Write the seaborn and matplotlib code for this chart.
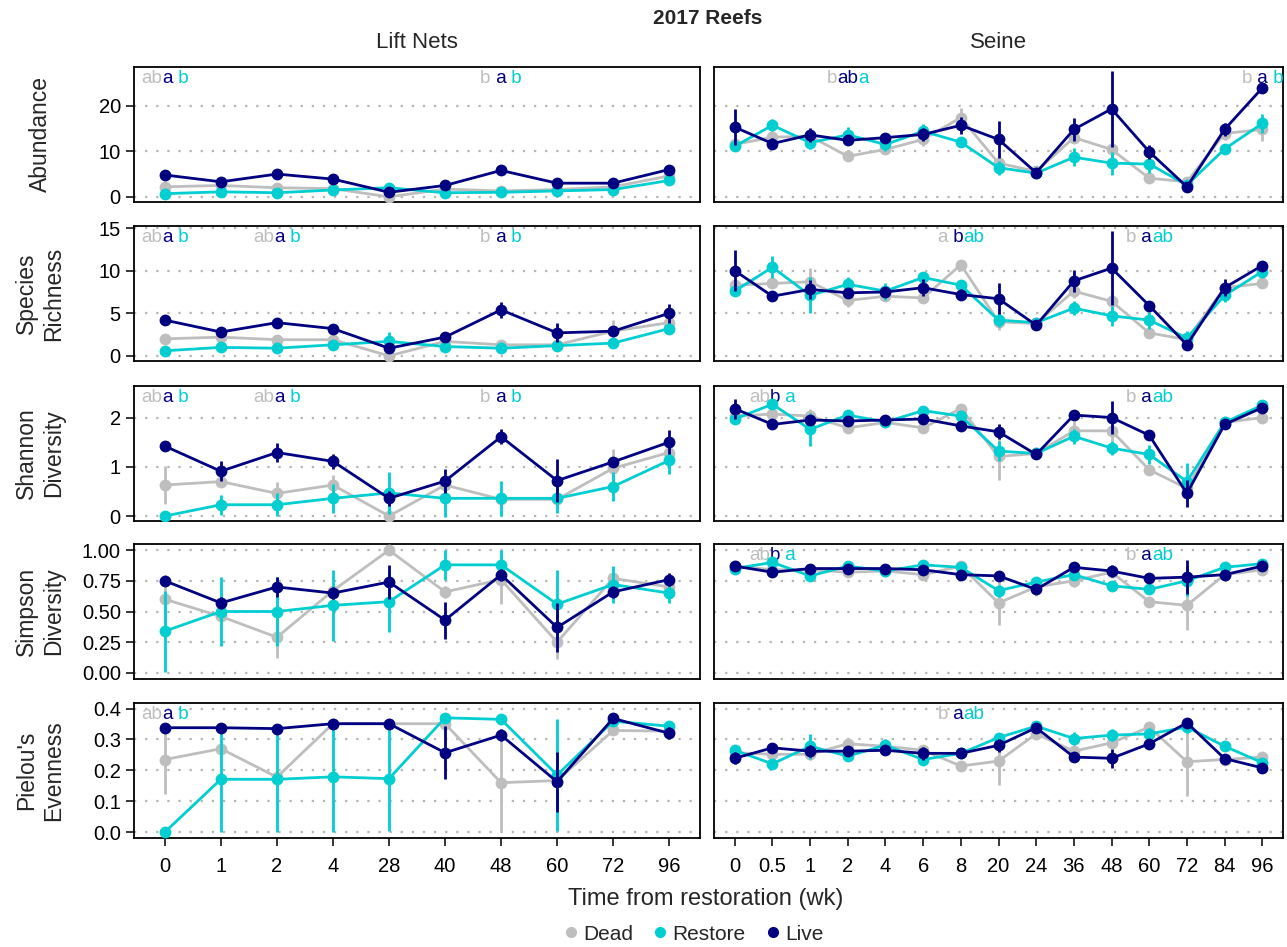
import numpy as np
import pandas as pd
import seaborn as sns
import matplotlib.pyplot as plt
from matplotlib.lines import Line2D
from matplotlib.offsetbox import TextArea, HPacker, AnnotationBbox

sns.set_style("white")
plt.rcParams["font.family"] = ["Liberation Sans", "DejaVu Sans"]

# categories
TREATMENTS = ["Dead", "Restore", "Live"]
PALETTE = {"Dead": "#BEBEBE", "Restore": "#00CED1", "Live": "#000080"}
LIFT_TIMES = ["0", "1", "2", "4", "28", "40", "48", "60", "72", "96"]
SEINE_TIMES = ["0", "0.5", "1", "2", "4", "6", "8", "20", "24", "36", "48", "60", "72", "84", "96"]
METRICS = ["Abundance", "Species\nRichness", "Shannon\nDiversity", "Simpson\nDiversity", "Pielou's\nEvenness"]

# abundance
abund_lift_mean = dict(Dead=[2.2, 2.5, 2.0, 1.8, 0.0, 1.7, 1.3, 1.6, 2.2, 4.6],
                       Restore=[0.7, 1.1, 0.9, 1.5, 2.0, 0.9, 1.0, 1.3, 1.6, 3.6],
                       Live=[4.8, 3.3, 5.0, 3.9, 1.0, 2.5, 5.8, 3.0, 3.0, 6.0])
abund_lift_se = dict(Dead=[0.4, 0.3, 0.3, 0.3, 0.2, 0.3, 0.3, 0.3, 0.4, 0.8],
                     Restore=[0.3, 0.3, 0.3, 0.3, 0.6, 0.3, 0.3, 0.3, 0.3, 0.5],
                     Live=[0.4, 0.8, 0.5, 0.4, 0.4, 0.6, 0.5, 1.0, 1.0, 1.0])
abund_seine_mean = dict(Dead=[11.5, 13.1, 13.3, 8.9, 10.4, 12.6, 17.4, 7.4, 5.6, 13.0, 10.4, 4.1, 3.3, 13.9, 14.8],
                        Restore=[11.1, 15.7, 11.9, 13.6, 11.5, 14.4, 12.0, 6.4, 5.2, 8.7, 7.4, 7.2, 2.6, 10.5, 16.1],
                        Live=[15.3, 11.7, 13.6, 12.4, 13.0, 13.7, 15.7, 12.6, 5.3, 14.8, 19.3, 9.9, 2.2, 14.8, 23.9])
abund_seine_se = dict(Dead=[1.0, 1.0, 1.2, 0.7, 1.0, 1.5, 2.0, 1.0, 0.5, 1.2, 2.0, 1.0, 0.5, 1.5, 2.5],
                      Restore=[0.8, 1.3, 1.5, 1.8, 1.5, 1.5, 0.8, 1.5, 0.5, 2.0, 2.5, 2.0, 0.5, 1.0, 2.0],
                      Live=[3.9, 1.2, 1.5, 1.0, 1.0, 1.5, 1.8, 4.1, 0.5, 2.6, 8.3, 1.5, 0.8, 1.5, 1.0])

# species richness
rich_lift_mean = dict(Dead=[2.0, 2.2, 1.9, 1.9, 0.0, 1.7, 1.3, 1.3, 2.9, 3.9],
                      Restore=[0.6, 1.0, 0.9, 1.3, 1.7, 1.1, 0.9, 1.2, 1.5, 3.2],
                      Live=[4.2, 2.8, 3.9, 3.2, 0.9, 2.2, 5.4, 2.7, 2.9, 5.0])
rich_lift_se = dict(Dead=[0.3, 0.3, 0.3, 0.3, 0.2, 0.3, 0.6, 0.3, 1.3, 0.5],
                    Restore=[0.2, 0.3, 0.2, 0.4, 1.1, 0.6, 0.5, 0.3, 0.5, 0.6],
                    Live=[0.3, 0.4, 0.6, 0.3, 0.3, 0.4, 0.9, 1.1, 0.5, 1.1])
rich_seine_mean = dict(Dead=[8.3, 8.5, 8.7, 6.5, 7.0, 6.8, 10.7, 4.0, 3.8, 7.6, 6.4, 2.7, 1.9, 8.0, 8.5],
                       Restore=[7.6, 10.4, 7.1, 8.4, 7.6, 9.2, 8.3, 4.2, 3.9, 5.6, 4.7, 4.2, 2.1, 7.1, 9.9],
                       Live=[10.0, 7.0, 7.8, 7.4, 7.5, 8.0, 7.2, 6.7, 3.6, 8.8, 10.3, 5.9, 1.3, 8.0, 10.6])
rich_seine_se = dict(Dead=[0.5, 0.5, 1.6, 0.8, 0.5, 0.5, 0.5, 1.0, 0.5, 0.8, 1.0, 0.5, 0.5, 0.5, 0.3],
                     Restore=[0.5, 1.3, 2.1, 0.8, 1.0, 0.5, 0.5, 0.8, 0.3, 0.8, 1.2, 1.0, 0.8, 0.8, 0.5],
                     Live=[2.4, 0.4, 1.1, 0.6, 0.6, 1.0, 0.6, 1.8, 0.3, 1.3, 4.3, 0.4, 0.3, 1.0, 0.5])

# shannon diversity
shan_lift_mean = dict(Dead=[0.63, 0.70, 0.46, 0.63, 0.0, 0.63, 0.34, 0.34, 0.97, 1.29],
                      Restore=[0.0, 0.23, 0.23, 0.36, 0.47, 0.36, 0.36, 0.36, 0.60, 1.13],
                      Live=[1.42, 0.91, 1.29, 1.11, 0.36, 0.71, 1.61, 0.72, 1.10, 1.50])
shan_lift_se = dict(Dead=[0.38, 0.05, 0.24, 0.21, 0.0, 0.05, 0.05, 0.05, 0.39, 0.1],
                    Restore=[0.0, 0.2, 0.23, 0.3, 0.43, 0.37, 0.36, 0.3, 0.3, 0.27],
                    Live=[0.05, 0.2, 0.2, 0.15, 0.15, 0.25, 0.15, 0.43, 0.1, 0.25])
shan_seine_mean = dict(Dead=[2.03, 2.07, 2.03, 1.79, 1.90, 1.79, 2.18, 1.21, 1.27, 1.73, 1.73, 0.94, 0.56, 1.90, 2.00],
                       Restore=[1.97, 2.27, 1.76, 2.05, 1.91, 2.14, 2.03, 1.32, 1.27, 1.62, 1.38, 1.25, 0.70, 1.90, 2.25],
                       Live=[2.18, 1.86, 1.95, 1.93, 1.95, 1.97, 1.83, 1.71, 1.25, 2.05, 2.00, 1.64, 0.46, 1.86, 2.20])
shan_seine_se = dict(Dead=[0.1, 0.1, 0.15, 0.1, 0.1, 0.1, 0.1, 0.48, 0.1, 0.2, 0.2, 0.1, 0.1, 0.1, 0.05],
                     Restore=[0.1, 0.1, 0.34, 0.05, 0.1, 0.05, 0.1, 0.2, 0.1, 0.15, 0.15, 0.2, 0.37, 0.1, 0.05],
                     Live=[0.2, 0.05, 0.1, 0.05, 0.05, 0.08, 0.05, 0.15, 0.05, 0.05, 0.34, 0.05, 0.28, 0.05, 0.05])

# simpson diversity
simp_lift_mean = dict(Dead=[0.60, 0.46, 0.29, 0.67, 1.00, 0.66, 0.76, 0.25, 0.77, 0.70],
                      Restore=[0.34, 0.50, 0.50, 0.55, 0.58, 0.88, 0.88, 0.56, 0.72, 0.65],
                      Live=[0.75, 0.57, 0.70, 0.65, 0.74, 0.43, 0.80, 0.37, 0.66, 0.76])
simp_lift_se = dict(Dead=[0.2, 0.03, 0.17, 0.05, 0.0, 0.05, 0.2, 0.14, 0.05, 0.05],
                    Restore=[0.33, 0.28, 0.28, 0.29, 0.25, 0.12, 0.12, 0.28, 0.15, 0.08],
                    Live=[0.02, 0.05, 0.08, 0.05, 0.14, 0.15, 0.05, 0.2, 0.05, 0.05])
simp_seine_mean = dict(Dead=[0.87, 0.84, 0.84, 0.82, 0.83, 0.80, 0.87, 0.57, 0.70, 0.75, 0.82, 0.58, 0.55, 0.80, 0.84],
                       Restore=[0.85, 0.90, 0.79, 0.87, 0.83, 0.88, 0.86, 0.67, 0.74, 0.80, 0.71, 0.68, 0.75, 0.86, 0.89],
                       Live=[0.87, 0.82, 0.85, 0.85, 0.85, 0.84, 0.80, 0.79, 0.68, 0.86, 0.83, 0.77, 0.78, 0.80, 0.87])
simp_seine_se = dict(Dead=[0.02, 0.02, 0.02, 0.02, 0.02, 0.02, 0.02, 0.18, 0.07, 0.05, 0.05, 0.03, 0.2, 0.02, 0.02],
                     Restore=[0.02, 0.02, 0.04, 0.02, 0.02, 0.02, 0.02, 0.05, 0.03, 0.03, 0.03, 0.03, 0.12, 0.02, 0.02],
                     Live=[0.02, 0.02, 0.03, 0.02, 0.02, 0.02, 0.02, 0.04, 0.02, 0.02, 0.05, 0.02, 0.14, 0.02, 0.02])

# pielou's evenness
piel_lift_mean = dict(Dead=[0.235, 0.270, 0.178, 0.351, 0.351, 0.351, 0.160, 0.167, 0.329, 0.327],
                      Restore=[0.0, 0.171, 0.171, 0.179, 0.173, 0.370, 0.365, 0.185, 0.359, 0.343],
                      Live=[0.338, 0.338, 0.335, 0.351, 0.351, 0.257, 0.314, 0.163, 0.368, 0.320])
piel_lift_se = dict(Dead=[0.11, 0.01, 0.01, 0.01, 0.01, 0.01, 0.16, 0.01, 0.01, 0.01],
                    Restore=[0.0, 0.17, 0.17, 0.18, 0.17, 0.01, 0.01, 0.18, 0.01, 0.01],
                    Live=[0.01, 0.01, 0.01, 0.01, 0.01, 0.086, 0.02, 0.097, 0.01, 0.02])
piel_seine_mean = dict(Dead=[0.257, 0.252, 0.252, 0.286, 0.278, 0.265, 0.214, 0.230, 0.318, 0.262, 0.289, 0.340, 0.228, 0.235, 0.243],
                       Restore=[0.265, 0.221, 0.278, 0.246, 0.281, 0.235, 0.255, 0.306, 0.343, 0.303, 0.314, 0.318, 0.340, 0.278, 0.225],
                       Live=[0.239, 0.273, 0.262, 0.262, 0.265, 0.255, 0.255, 0.281, 0.338, 0.243, 0.239, 0.286, 0.354, 0.238, 0.208])
piel_seine_se = dict(Dead=[0.01, 0.01, 0.02, 0.01, 0.01, 0.01, 0.01, 0.076, 0.01, 0.01, 0.01, 0.01, 0.11, 0.01, 0.01],
                     Restore=[0.01, 0.01, 0.04, 0.01, 0.02, 0.01, 0.01, 0.01, 0.01, 0.02, 0.02, 0.02, 0.02, 0.01, 0.01],
                     Live=[0.02, 0.01, 0.02, 0.01, 0.01, 0.02, 0.01, 0.02, 0.01, 0.01, 0.03, 0.01, 0.01, 0.01, 0.01])

# y ticks per row
Y_TICKS = [[0, 10, 20], [0, 5, 10, 15], [0, 1, 2], [0, 0.25, 0.5, 0.75, 1.0], [0, 0.1, 0.2, 0.3, 0.4]]
Y_TICKLABELS = [["0", "10", "20"], ["0", "5", "10", "15"], ["0", "1", "2"],
                ["0.00", "0.25", "0.50", "0.75", "1.00"], ["0.0", "0.1", "0.2", "0.3", "0.4"]]
Y_LIMS = [(-1.13, 28.5), (-0.6, 15.24), (-0.1, 2.64), (-0.05, 1.05), (-0.019, 0.418)]

# significance letters: (time index, dead, live, restore)
letters_lift = [[(0, "ab", "a", " b"), (6, "b", " a", " b")],
                [(0, "ab", "a", " b"), (2, "ab", "a", " b"), (6, "b", " a", " b")],
                [(0, "ab", "a", " b"), (2, "ab", "a", " b"), (6, "b", " a", " b")],
                [],
                [(0, "ab", "a", " b")]]
letters_seine = [[(3, "b", "ab", "a"), (14, "b", " a", " b")],
                 [(6, "a", " b", "ab"), (11, "b", " a", "ab")],
                 [(1, "ab", "b", " a"), (11, "b", " a", "ab")],
                 [(1, "ab", "b", " a"), (11, "b", " a", "ab")],
                 [(6, "b", " a", "ab")]]


def long_frame(times, means, ses):
    rows = []
    for trt in TREATMENTS:
        for i, t in enumerate(times):
            rows.append(dict(time=t, pos=i, treatment=trt, mean=means[trt][i], se=ses[trt][i]))
    return pd.DataFrame(rows)


panels = [
    (long_frame(LIFT_TIMES, abund_lift_mean, abund_lift_se), long_frame(SEINE_TIMES, abund_seine_mean, abund_seine_se)),
    (long_frame(LIFT_TIMES, rich_lift_mean, rich_lift_se), long_frame(SEINE_TIMES, rich_seine_mean, rich_seine_se)),
    (long_frame(LIFT_TIMES, shan_lift_mean, shan_lift_se), long_frame(SEINE_TIMES, shan_seine_mean, shan_seine_se)),
    (long_frame(LIFT_TIMES, simp_lift_mean, simp_lift_se), long_frame(SEINE_TIMES, simp_seine_mean, simp_seine_se)),
    (long_frame(LIFT_TIMES, piel_lift_mean, piel_lift_se), long_frame(SEINE_TIMES, piel_seine_mean, piel_seine_se)),
]

W, H = 1287, 947
fig = plt.figure(figsize=(W / 100, H / 100), dpi=100)

col_x = [134, 714]
col_w = [566, 569]
row_top = [67, 226, 386, 544, 703]
row_h = 135


def add_letters(ax, groups):
    for xi, g_dead, g_live, g_rest in groups:
        parts = [TextArea(s, textprops=dict(color=PALETTE[t], fontsize=13.5))
                 for s, t in [(g_dead, "Dead"), (g_live, "Live"), (g_rest, "Restore")]]
        box = HPacker(children=parts, align="baseline", pad=0, sep=0)
        ab = AnnotationBbox(box, (xi, 0.975), xycoords=ax.get_xaxis_transform(),
                            box_alignment=(0.5, 1), frameon=False, pad=0)
        ax.add_artist(ab)


for r in range(5):
    for c in range(2):
        rect = [col_x[c] / W, 1 - (row_top[r] + row_h) / H, col_w[c] / W, row_h / H]
        ax = fig.add_axes(rect)
        d = panels[r][c]
        times = LIFT_TIMES if c == 0 else SEINE_TIMES
        for k, trt in enumerate(TREATMENTS):
            sub = d[d["treatment"] == trt]
            ax.vlines(sub["pos"], sub["mean"] - sub["se"], sub["mean"] + sub["se"],
                      color=PALETTE[trt], lw=2.0, zorder=3 + k)
            sns.lineplot(data=sub, x="pos", y="mean", color=PALETTE[trt], marker="o",
                         markersize=8.5, markeredgewidth=0, lw=2.0, errorbar=None,
                         legend=False, ax=ax, zorder=3.5 + k)
        ax.set_xlim(-0.55, len(times) - 0.45)
        ax.set_ylim(*Y_LIMS[r])
        ax.set_xticks(range(len(times)))
        ax.set_xticklabels(times)
        ax.set_yticks(Y_TICKS[r])
        ax.set_yticklabels(Y_TICKLABELS[r])
        ax.set_xlabel("")
        ax.set_ylabel("")
        ax.yaxis.grid(True, linestyle=(0, (1, 4)), color="#b5b5b5", lw=1.6)
        ax.xaxis.grid(False)
        ax.set_axisbelow(True)
        for sp in ax.spines.values():
            sp.set_visible(True)
            sp.set_color("black")
            sp.set_linewidth(1.3)
        ax.tick_params(axis="both", labelsize=14.5, length=6, width=1.1, color="black",
                       labelcolor="black", direction="out")
        ax.tick_params(axis="x", pad=8)
        ax.tick_params(axis="y", left=(c == 0), labelleft=(c == 0))
        ax.tick_params(axis="x", bottom=(r == 4), labelbottom=(r == 4))
        add_letters(ax, letters_lift[r] if c == 0 else letters_seine[r])

    fig.text(40 / W, 1 - (row_top[r] + row_h / 2) / H, METRICS[r], rotation=90,
             ha="center", va="center", multialignment="center", fontsize=16.5)

fig.text(708 / W, 1 - 18 / H, "2017 Reefs", ha="center", va="center", fontsize=15, fontweight="bold")
fig.text((col_x[0] + col_w[0] / 2) / W, 1 - 42 / H, "Lift Nets", ha="center", va="center", fontsize=16)
fig.text((col_x[1] + col_w[1] / 2) / W, 1 - 42 / H, "Seine", ha="center", va="center", fontsize=16)
fig.text(706 / W, 1 - 899 / H, "Time from restoration (wk)", ha="center", va="center", fontsize=17)

handles = [Line2D([], [], marker="o", ls="", color=PALETTE[t], markersize=7) for t in TREATMENTS]
fig.legend(handles, TREATMENTS, loc="center", bbox_to_anchor=(692 / W, 1 - 934 / H), ncol=3,
           frameon=False, fontsize=15, handletextpad=0.1, columnspacing=0.8, handlelength=1.0)

fig.savefig("out.png", dpi=100)
